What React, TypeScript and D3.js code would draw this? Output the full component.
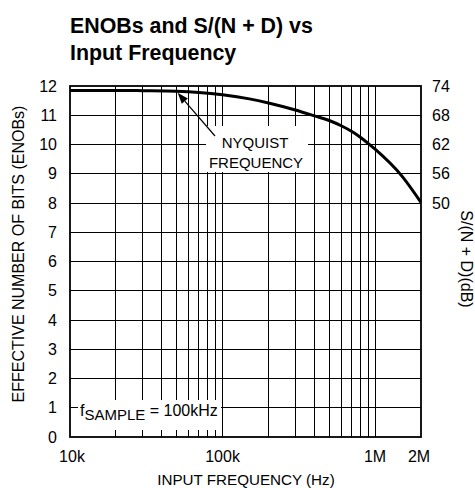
import React from "react";
import * as d3 from "d3";

const freqs = [10e3, 20e3, 30e3, 50e3, 70e3, 100e3, 150e3, 200e3, 300e3, 400e3, 500e3, 600e3, 700e3, 800e3, 900e3, 1e6, 1.5e6, 2e6];
const enob = [11.85, 11.85, 11.84, 11.82, 11.78, 11.7, 11.56, 11.42, 11.18, 10.98, 10.82, 10.64, 10.45, 10.25, 10.04, 9.84, 8.92, 8.02];
const yTicks = [0, 1, 2, 3, 4, 5, 6, 7, 8, 9, 10, 11, 12];
const rightTicks = [74, 68, 62, 56, 50];
const rightTickPos = [12, 11, 10, 9, 8];
const xTickVals = [1e4, 1e5, 1e6, 2e6];
const xTickLabels = ["10k", "100k", "1M", "2M"];
const gridFreqs = [2e4, 3e4, 4e4, 5e4, 6e4, 7e4, 8e4, 9e4, 1e5, 2e5, 3e5, 4e5, 5e5, 6e5, 7e5, 8e5, 9e5, 1e6];

const FONT = "'Liberation Sans', Arial, Helvetica, sans-serif";

export default function App() {
  const x = d3.scaleLog().domain([1e4, 2e6]).range([70, 421]);
  const y = d3.scaleLinear().domain([0, 12]).range([437, 86]);
  const line = d3
    .line<number>()
    .x((_, i) => x(freqs[i]))
    .y((d) => y(d))
    .curve(d3.curveMonotoneX);
  const path = line(enob) || "";

  const nyqTail = { x: 215, y: 136 };
  const nyqTip = { x: x(5e4) + 1, y: y(11.8) + 1 };
  const ang = Math.atan2(nyqTip.y - nyqTail.y, nyqTip.x - nyqTail.x);
  const ah = 11, aw = 4;
  const ax = nyqTip.x - ah * Math.cos(ang), ay = nyqTip.y - ah * Math.sin(ang);
  const head = `M${nyqTip.x},${nyqTip.y}L${ax + aw * Math.sin(ang)},${ay - aw * Math.cos(ang)}L${ax - aw * Math.sin(ang)},${ay + aw * Math.cos(ang)}Z`;

  return (
    <svg
      width={475}
      height={488}
      style={{ position: "absolute", left: 0, top: 0, background: "#fff" }}
      fontFamily={FONT}
    >
      <rect x={0} y={0} width={475} height={488} fill="#fff" />
      <g fontSize={23} fontWeight="bold" fill="#000">
        <text transform="translate(70,32.5) scale(0.93,1)">ENOBs and S/(N + D) vs</text>
        <text transform="translate(70,60) scale(0.93,1)">Input Frequency</text>
      </g>

      <g stroke="#000" strokeWidth={1} shapeRendering="crispEdges">
        {gridFreqs.map((f) => (
          <line key={"v" + f} x1={x(f)} x2={x(f)} y1={y(12)} y2={y(0)} />
        ))}
        {yTicks.slice(1, 12).map((v) => (
          <line key={"h" + v} x1={x(1e4)} x2={x(2e6)} y1={y(v)} y2={y(v)} />
        ))}
      </g>

      {/* label backgrounds */}
      <rect x={206} y={126} width={102} height={46} fill="#fff" />
      <rect x={78} y={400} width={143} height={30} fill="#fff" />

      <path d={path} fill="none" stroke="#000" strokeWidth={3} />

      <line x1={nyqTail.x} y1={nyqTail.y} x2={ax} y2={ay} stroke="#000" strokeWidth={1.2} />
      <path d={head} fill="#000" />

      <rect x={70} y={86} width={351} height={351} fill="none" stroke="#000" strokeWidth={1.8} />

      <g fontSize={16} fill="#000">
        {yTicks.map((v) => (
          <text key={"yl" + v} x={57} y={y(v)} textAnchor="end" dominantBaseline="central">{v}</text>
        ))}
        {rightTicks.map((v, i) => (
          <text key={"rl" + v} x={432} y={y(rightTickPos[i])} dominantBaseline="central">{v}</text>
        ))}
        {xTickVals.map((v, i) => (
          <text key={"xl" + v} x={x(v) + (i === 3 ? -2 : i === 0 ? 2 : 0)} y={461.5} textAnchor="middle">{xTickLabels[i]}</text>
        ))}
      </g>

      <g fill="#000">
        <text x={246} y={485} fontSize={15.2} textAnchor="middle">INPUT FREQUENCY (Hz)</text>
        <text transform="translate(18,254) rotate(-90)" fontSize={16} textAnchor="middle" dominantBaseline="central">EFFECTIVE NUMBER OF BITS (ENOBs)</text>
        <text transform="translate(466,259) rotate(90)" fontSize={16} textAnchor="middle" dominantBaseline="central">S/(N + D)(dB)</text>
        <text x={255} y={148} fontSize={15} textAnchor="middle">NYQUIST</text>
        <text x={256} y={168} fontSize={15} textAnchor="middle">FREQUENCY</text>
        <text x={80} y={416} fontSize={16}>
          f<tspan fontSize={15} dy={4}>SAMPLE</tspan><tspan dy={-4}> = 100kHz</tspan>
        </text>
      </g>
    </svg>
  );
}
